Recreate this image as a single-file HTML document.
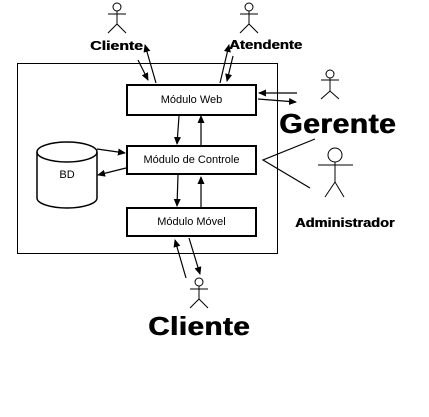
<!DOCTYPE html>
<html><head><style>
html,body{margin:0;padding:0;background:#fff}
body{width:429px;height:417px;overflow:hidden;position:relative;font-family:"Liberation Sans",Arial,sans-serif}
.box{position:absolute;box-sizing:border-box;border:2px solid #000;background:#fff;font-size:11px;text-align:center;color:#000}
.t{position:absolute;white-space:nowrap;font-weight:bold;color:#000;line-height:1;transform-origin:0 0;text-shadow:0.4px 0 0 #000}
svg{position:absolute;left:0;top:0}
</style></head><body>
<div style="position:absolute;left:17px;top:63px;width:259px;height:189px;border:1px solid #000"></div>
<div class="box" style="left:126px;top:84px;width:131px;height:32px;line-height:28px">Módulo Web</div>
<div class="box" style="left:126px;top:145px;width:131px;height:30px;line-height:26px">Módulo de Controle</div>
<div class="box" style="left:126px;top:207px;width:131px;height:30px;line-height:26px">Módulo Móvel</div>
<svg width="429" height="417">
<defs><marker id="a" markerWidth="8" markerHeight="8" refX="7" refY="4" orient="auto" markerUnits="userSpaceOnUse"><path d="M0,0.5 L8,4 L0,7.5 Z" fill="#000"/></marker></defs>
<path d="M37,152 L37,198 A30,10 0 0 0 97,198 L97,152" stroke="#000" fill="none" stroke-width="1.5"/>
<ellipse cx="67" cy="152" rx="30" ry="10" stroke="#000" fill="none" stroke-width="1.5"/>
<g stroke="#000" fill="none" stroke-width="1.2">
<line x1="138" y1="60" x2="148" y2="80" marker-end="url(#a)"/>
<line x1="156" y1="83" x2="145" y2="45" marker-end="url(#a)"/>
<line x1="220" y1="83" x2="229" y2="45" marker-end="url(#a)"/>
<line x1="233" y1="56" x2="227" y2="81" marker-end="url(#a)"/>
<line x1="297" y1="93" x2="259" y2="93" marker-end="url(#a)"/>
<line x1="258" y1="99" x2="296" y2="102" marker-end="url(#a)"/>
<line x1="179" y1="116" x2="177" y2="144" marker-end="url(#a)"/>
<line x1="201" y1="145" x2="201" y2="116" marker-end="url(#a)"/>
<line x1="97" y1="149" x2="125" y2="153" marker-end="url(#a)"/>
<line x1="126" y1="168" x2="98" y2="175" marker-end="url(#a)"/>
<line x1="178" y1="175" x2="177" y2="206" marker-end="url(#a)"/>
<line x1="201" y1="207" x2="201" y2="177" marker-end="url(#a)"/>
<line x1="186" y1="278" x2="175" y2="240" marker-end="url(#a)"/>
<line x1="189" y1="238" x2="200" y2="274" marker-end="url(#a)"/>
<polyline points="315,139 263,160 310,188"/>
</g>
<g stroke="#000" fill="none" stroke-width="1">
<circle cx="117" cy="7" r="4"/><line x1="117" y1="11" x2="117" y2="24"/><line x1="108" y1="14" x2="126" y2="14"/><polyline points="108,33 117,24 126,33"/>
<circle cx="249" cy="7" r="4"/><line x1="249" y1="11" x2="249" y2="24"/><line x1="240" y1="14" x2="258" y2="14"/><polyline points="240,33 249,24 258,33"/>
<circle cx="330" cy="74" r="4"/><line x1="330" y1="78" x2="330" y2="91"/><line x1="321" y1="80" x2="339" y2="80"/><polyline points="321,99 330,91 339,99"/>
<circle cx="335" cy="155" r="7"/><line x1="335" y1="162" x2="335" y2="182"/><line x1="318" y1="165" x2="353" y2="165"/><polyline points="325,197 335,182 344,197"/>
<circle cx="199" cy="282" r="4"/><line x1="199" y1="286" x2="199" y2="299"/><line x1="190" y1="289" x2="208" y2="289"/><polyline points="190,308 199,299 208,308"/>
</g>
</svg>
<div style="position:absolute;left:37px;top:170px;width:60px;text-align:center;font-size:11px;line-height:1">BD</div>
<div class="t" style="left:90px;top:39px;font-size:13px;transform:scaleX(1.22)">Cliente</div>
<div class="t" style="left:229px;top:38px;font-size:13px;transform:scaleX(1.15)">Atendente</div>
<div class="t" style="left:279px;top:110px;font-size:28px;letter-spacing:0.5px;transform:scaleX(1.07);text-shadow:0.8px 0 0 #000">Gerente</div>
<div class="t" style="left:295px;top:216px;font-size:13px;transform:scaleX(1.12)">Administrador</div>
<div class="t" style="left:148px;top:313px;font-size:26px;letter-spacing:0.5px;transform:scaleX(1.13);text-shadow:0.8px 0 0 #000">Cliente</div>
</body></html>
